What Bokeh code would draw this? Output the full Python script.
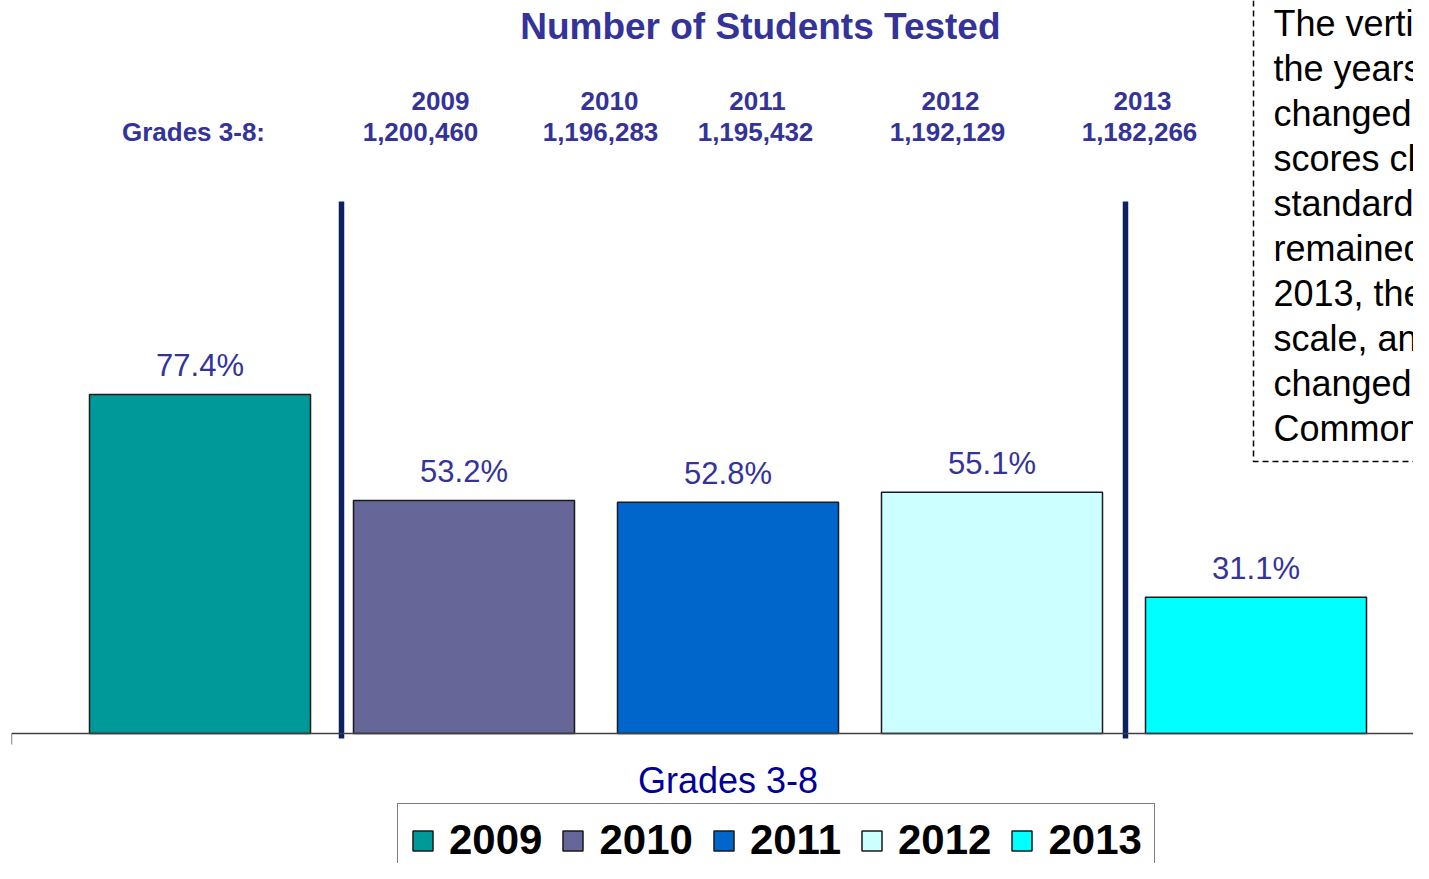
from bokeh.plotting import figure
from bokeh.models import (Range1d, LinearAxis, FixedTicker, Label, Legend, LegendItem,
                          ColumnDataSource, CustomJSTickFormatter)
from bokeh.embed import file_html
from bokeh.resources import INLINE
from bokeh.core.properties import value

# ---------------- data ----------------
years = ["2009", "2010", "2011", "2012", "2013"]
pct = [77.4, 53.2, 52.8, 55.1, 31.1]
tested = ["1,200,460", "1,196,283", "1,195,432", "1,192,129", "1,182,266"]
category = "Grades 3-8"
tested_row_label = "Grades 3-8:"
title_text = "Number of  Students Tested"
bar_colors = ["#009999", "#666699", "#0066CC", "#CCFFFF", "#00FFFF"]
note_lines = ["The vertical", "the years", "changed.", "scores changed",
              "standards", "remained", "2013, the", "scale, and",
              "changed to", "Common"]

# ---------------- layout helpers (canvas pixels -> data) ----------------
W, H = 1413, 863
X0_PX, X_STEP = 199.5, 264.0     # centre of first bar, spacing
BASE_PX, Y_STEP = 733.0, 4.38     # baseline, px per percent


def dx(px):
    return (px - X0_PX) / X_STEP


def dy(py):
    return (BASE_PX - py) / Y_STEP


frame_left_px = 11
x_left = dx(frame_left_px)

p = figure(width=W, height=H, output_backend="svg", toolbar_location=None,
           x_range=Range1d(x_left, dx(W)),
           y_range=Range1d(dy(H), dy(0)),
           min_border_left=frame_left_px, min_border_right=0, min_border_top=0,
           min_border_bottom=0,
           x_axis_location=None, y_axis_location=None)
p.xgrid.visible = False
p.ygrid.visible = False
p.outline_line_color = None
p.background_fill_color = "white"
p.border_fill_color = "white"

src = ColumnDataSource(dict(
    x=list(range(len(years))), pct=pct, year=years, color=bar_colors,
    label=[f"{v:.1f}%" for v in pct]))

bars = p.vbar(x="x", top="pct", bottom=0, width=221 / X_STEP, source=src,
              fill_color="color", line_color="#1a1a1a", line_width=1.5)

p.text(x="x", y="pct", text="label", source=src, y_offset=-29,
       text_align="center", text_baseline="middle",
       text_font=value("Liberation Sans"), text_font_size="31px",
       text_color="#333399")

# vertical separators (scale changes)
sep_px = [341, 1125]
p.segment(x0=[dx(s) for s in sep_px], x1=[dx(s) for s in sep_px],
          y0=dy(738), y1=dy(201), line_color="#0C2161", line_width=5.5)

# x axis
xa = LinearAxis(fixed_location=0, ticker=FixedTicker(ticks=[x_left + 0.001]),
                formatter=CustomJSTickFormatter(code="return ''"),
                major_tick_out=11, major_tick_in=0,
                minor_tick_line_color=None,
                axis_line_color="#404040", axis_line_width=1.3,
                major_tick_line_color="#404040", major_tick_line_width=1.3)
p.add_layout(xa, "below")


def lab(x, y, text, size, color, bold=False, align="center"):
    p.add_layout(Label(x=x, y=y, text=text, text_align=align,
                       text_baseline="middle", text_font="Liberation Sans",
                       text_font_style="bold" if bold else "normal",
                       text_font_size=size, text_color=color))


lab((len(years) - 1) / 2, dy(780), category, "36px", "#000099")

# title and header rows
lab(dx(765), dy(26), title_text, "37px", "#333399", bold=True)
lab(dx(193), dy(131), tested_row_label, "26px", "#333399", bold=True)
year_px = [440, 609, 757, 950, 1142]
count_px = [420, 600, 755, 947, 1139]
for yr, n, ypx, cpx in zip(years, tested, year_px, count_px):
    lab(dx(ypx), dy(100), yr, "26px", "#333399", bold=True)
    lab(dx(cpx), dy(131), n, "26px", "#333399", bold=True)

# note box
p.line(x=[dx(1253), dx(1253), dx(1500)], y=[dy(-20), dy(461), dy(461)],
       line_color="black", line_width=1.5, line_dash="6 4")
for k, line in enumerate(note_lines):
    lab(dx(1273), dy(23 + 45 * k), line, "36px", "black", align="left")

# legend
legend = Legend(items=[LegendItem(label=yr, renderers=[bars], index=i)
                       for i, yr in enumerate(years)],
                orientation="horizontal", location=(397 - frame_left_px, -14),
                glyph_width=25, glyph_height=25, label_standoff=14, spacing=18,
                padding=12, margin=0, border_line_color="black", border_line_width=1,
                background_fill_color="white", background_fill_alpha=1,
                label_text_font="Liberation Sans", label_text_font_style="bold",
                label_text_font_size="42px", label_text_color="black")
p.add_layout(legend, "center")

open("out.html", "w").write(file_html(p, INLINE))
